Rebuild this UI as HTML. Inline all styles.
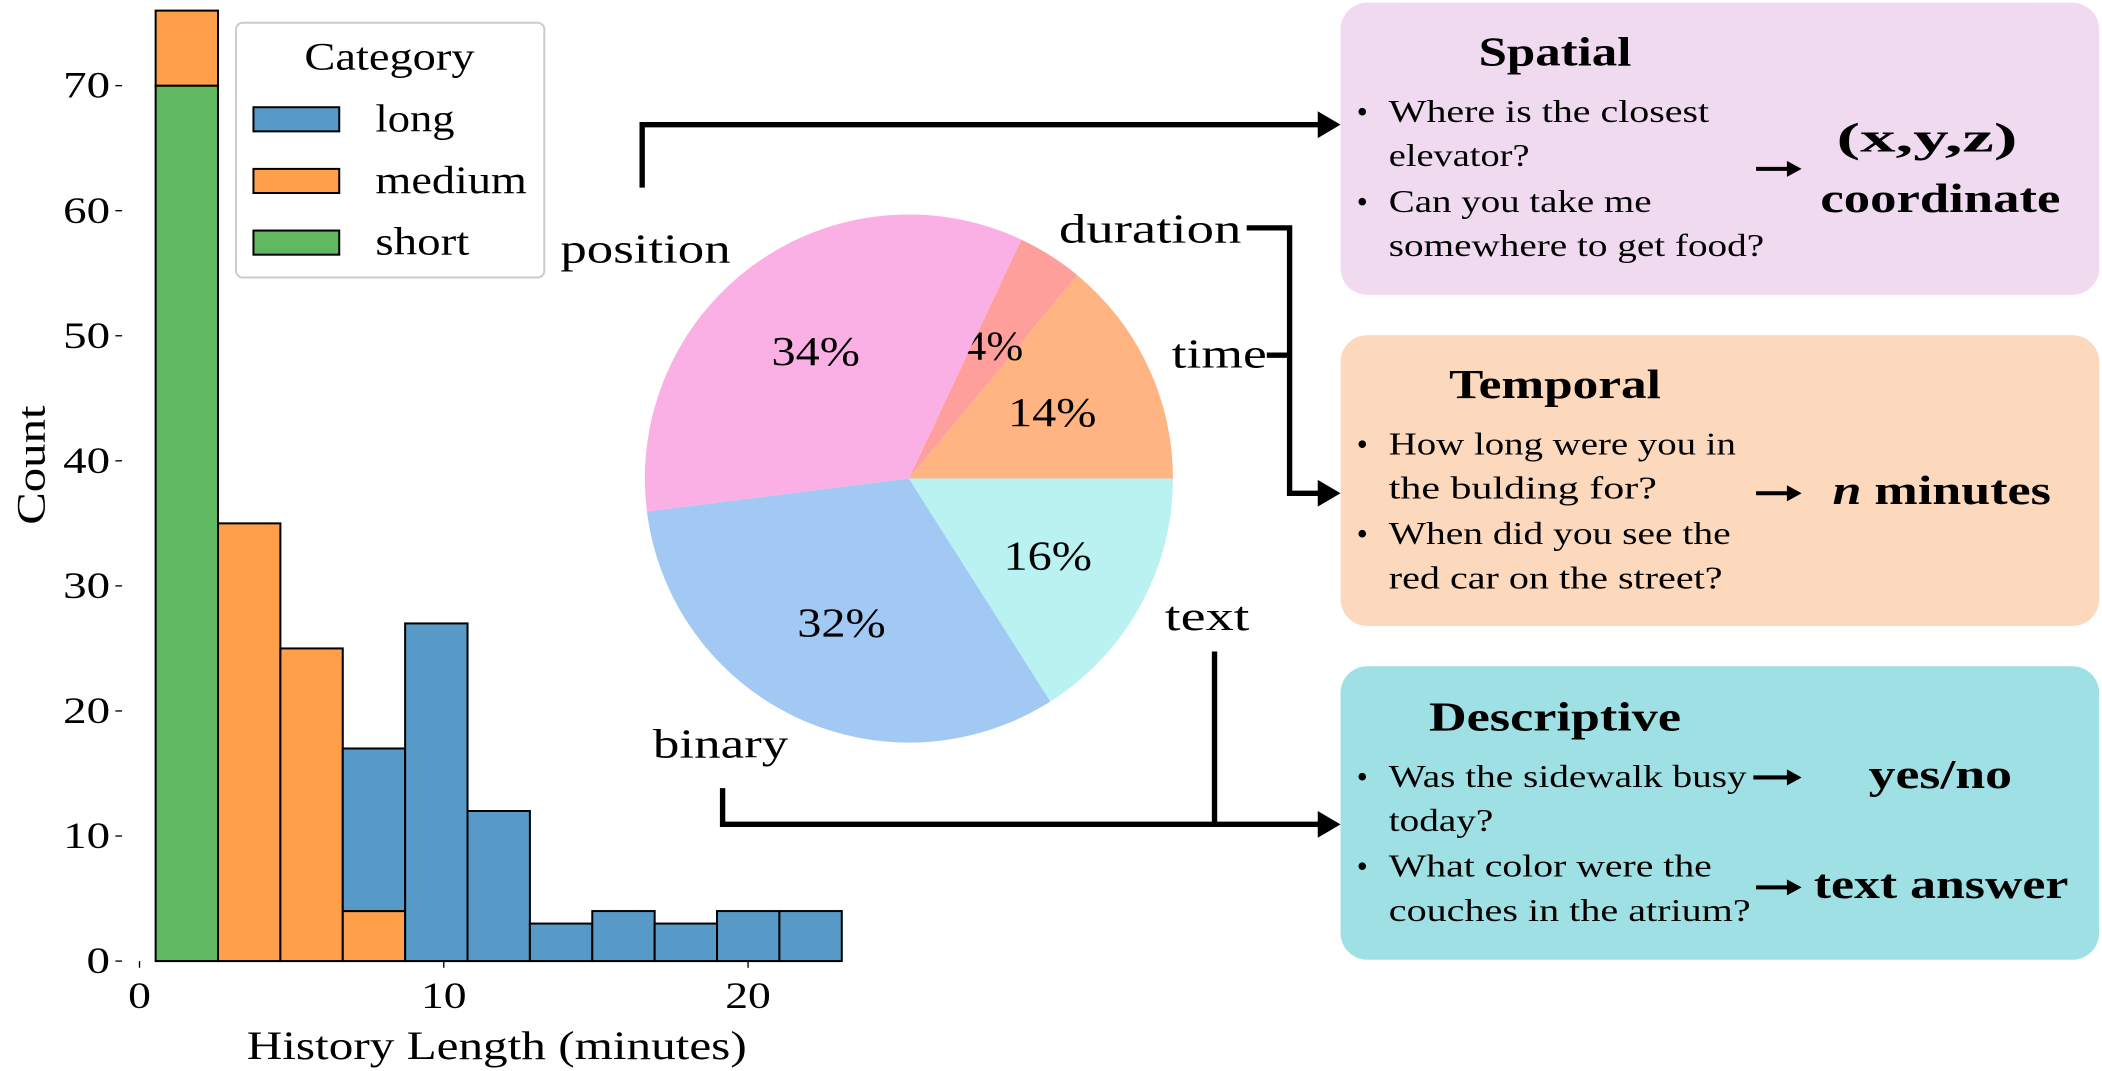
<!DOCTYPE html>
<html><head><meta charset="utf-8"><style>
html,body{margin:0;padding:0;background:#fff;width:2102px;height:1071px;overflow:hidden}
svg{display:block}
text{font-family:"Liberation Serif",serif;fill:#000}
</style></head><body>
<svg id="fig" width="2102" height="1071" viewBox="0 0 1568 799">
<g id="hist"></g>
<g id="pie"></g>
<g fill="none" stroke="#000" stroke-width="4">
<polyline points="479,140 479,93 985,93"/>
<polygon points="983,83 1000,93 983,103" fill="#000" stroke="none"/>
<polyline points="930,170 962,170 962,368 985,368"/>
<line x1="945" y1="265" x2="962" y2="265"/>
<polygon points="983,358 1000,368 983,378" fill="#000" stroke="none"/>
<polyline points="539,588 539,615 985,615"/>
<line x1="906" y1="486" x2="906" y2="615"/>
<polygon points="983,605 1000,615 983,625" fill="#000" stroke="none"/>
</g>
<g font-size="31" lengthAdjust="spacingAndGlyphs">
<text x="418" y="196" textLength="127" lengthAdjust="spacingAndGlyphs">position</text>
<text x="790" y="181" textLength="136" lengthAdjust="spacingAndGlyphs">duration</text>
<text x="874" y="274" textLength="71" lengthAdjust="spacingAndGlyphs">time</text>
<text x="869" y="470" textLength="63" lengthAdjust="spacingAndGlyphs">text</text>
<text x="487" y="565" textLength="101" lengthAdjust="spacingAndGlyphs">binary</text>
</g>
<g>
<rect x="1000" y="2" width="566" height="218" rx="20" fill="#f0daf0"/>
<text x="1103" y="49" font-size="31" font-weight="bold" textLength="114" lengthAdjust="spacingAndGlyphs">Spatial</text>
<g font-size="24"><text x="1012" y="91">•</text><text x="1036" y="91" textLength="239" lengthAdjust="spacingAndGlyphs">Where is the closest</text><text x="1036" y="124" textLength="105" lengthAdjust="spacingAndGlyphs">elevator?</text>
<text x="1012" y="158">•</text><text x="1036" y="158" textLength="196" lengthAdjust="spacingAndGlyphs">Can you take me</text><text x="1036" y="191" textLength="280" lengthAdjust="spacingAndGlyphs">somewhere to get food?</text></g>
<path d="M1310,126 H1335" stroke="#000" stroke-width="3"/><polygon points="1333,120 1344,126 1333,132"/>
<text x="1370" y="113" font-size="31" font-weight="bold" textLength="135" lengthAdjust="spacingAndGlyphs">(x,y,z)</text>
<text x="1358" y="158" font-size="31" font-weight="bold" textLength="179" lengthAdjust="spacingAndGlyphs">coordinate</text>
</g>
<g>
<rect x="1000" y="250" width="566" height="217" rx="20" fill="#fcd9bd"/>
<text x="1081" y="297" font-size="31" font-weight="bold" textLength="158" lengthAdjust="spacingAndGlyphs">Temporal</text>
<g font-size="24"><text x="1012" y="339">•</text><text x="1036" y="339" textLength="259" lengthAdjust="spacingAndGlyphs">How long were you in</text><text x="1036" y="372" textLength="200" lengthAdjust="spacingAndGlyphs">the bulding for?</text>
<text x="1012" y="406">•</text><text x="1036" y="406" textLength="255" lengthAdjust="spacingAndGlyphs">When did you see the</text><text x="1036" y="439" textLength="249" lengthAdjust="spacingAndGlyphs">red car on the street?</text></g>
<path d="M1310,368 H1335" stroke="#000" stroke-width="3"/><polygon points="1333,362 1344,368 1333,374"/>
<text x="1367" y="376" font-size="31" font-weight="bold" textLength="163" lengthAdjust="spacingAndGlyphs"><tspan font-style="italic">n</tspan> minutes</text>
</g>
<g>
<rect x="1000" y="497" width="566" height="219" rx="20" fill="#9fe0e4"/>
<text x="1066" y="545" font-size="31" font-weight="bold" textLength="188" lengthAdjust="spacingAndGlyphs">Descriptive</text>
<g font-size="24"><text x="1012" y="587">•</text><text x="1036" y="587" textLength="267" lengthAdjust="spacingAndGlyphs">Was the sidewalk busy</text><text x="1036" y="620" textLength="78" lengthAdjust="spacingAndGlyphs">today?</text>
<text x="1012" y="654">•</text><text x="1036" y="654" textLength="241" lengthAdjust="spacingAndGlyphs">What color were the</text><text x="1036" y="687" textLength="270" lengthAdjust="spacingAndGlyphs">couches in the atrium?</text></g>
<path d="M1308,580 H1335" stroke="#000" stroke-width="3"/><polygon points="1333,574 1344,580 1333,586"/>
<text x="1394" y="588" font-size="31" font-weight="bold" textLength="107" lengthAdjust="spacingAndGlyphs">yes/no</text>
<path d="M1310,662 H1335" stroke="#000" stroke-width="3"/><polygon points="1333,656 1344,662 1333,668"/>
<text x="1353" y="670" font-size="31" font-weight="bold" textLength="190" lengthAdjust="spacingAndGlyphs">text answer</text>
</g>
</svg>
<script>
const binStarts=[0.53,2.58,4.63,6.68,8.73,10.78,12.83,14.88,16.93,18.98,21.03];
const shortVals=[70,0,0,0,0,0,0,0,0,0,0];
const mediumVals=[6,35,25,4,0,0,0,0,0,0,0];
const longVals=[0,0,0,13,27,12,3,4,3,4,4];
const binWidth=2.05;
const xTicks=[0,10,20];
const yTicks=[0,10,20,30,40,50,60,70];
const pieLabels=['medium-red','red','pink','blue','cyan'];
const pieVals=[14,4,34,32,16];
const pieColors=['#ffb482','#ff9f9b','#fab0e4','#a1c9f4','#b9f2f0'];
const NS='http://www.w3.org/2000/svg';
function mk(t,a,p){const e=document.createElementNS(NS,t);for(const k in a)e.setAttribute(k,a[k]);p.appendChild(e);return e;}
const X=v=>104+v*22.7, Y=v=>717-v*9.33;
const h=document.getElementById('hist');
const series=[[shortVals,'#60b860','short'],[mediumVals,'#ff9f4a','medium'],[longVals,'#579ac7','long']];
binStarts.forEach((s,i)=>{let base=0;series.forEach(([vals,col,nm])=>{const v=vals[i];if(v>0){
const r=mk('rect',{x:X(s),y:Y(base+v),width:X(s+binWidth)-X(s),height:Y(base)-Y(base+v),fill:col,stroke:'#000','stroke-width':1.5},h);


base+=v;}});});
xTicks.forEach(t=>{mk('line',{x1:X(t),x2:X(t),y1:717,y2:722,stroke:'#000'},h);const tx=mk('text',{x:X(t),y:752,'font-size':28,'text-anchor':'middle',textLength:String(t).length*17,lengthAdjust:'spacingAndGlyphs'},h);tx.textContent=t;

});
yTicks.forEach(t=>{mk('line',{x1:86,x2:91,y1:Y(t),y2:Y(t),stroke:'#000'},h);const tx=mk('text',{x:82,y:Y(t)+9,'font-size':28,'text-anchor':'end',textLength:String(t).length*17.5,lengthAdjust:'spacingAndGlyphs'},h);tx.textContent=t;

});
let t=mk('text',{x:184,y:790,'font-size':30,textLength:373,lengthAdjust:'spacingAndGlyphs'},h);t.textContent='History Length (minutes)';


t=mk('text',{x:0,y:0,'font-size':30,'text-anchor':'middle',textLength:89,lengthAdjust:'spacingAndGlyphs',transform:'translate(33,347) rotate(-90)'},h);t.textContent='Count';


const lg=mk('g',{},h);


mk('rect',{x:176,y:17,width:230,height:190,rx:5,fill:'#fff',stroke:'#ccc','stroke-width':1.5},lg);
t=mk('text',{x:227,y:52,'font-size':29,textLength:127,lengthAdjust:'spacingAndGlyphs'},lg);t.textContent='Category';
[['long','#579ac7',59],['medium','#ff9f4a',113],['short','#60b860',70]].forEach(([n,c,w],i)=>{const y=80+i*46;
mk('rect',{x:189,y:y,width:64,height:18,fill:c,stroke:'#000','stroke-width':1.5},lg);
const e=mk('text',{x:280,y:y+18,'font-size':29,textLength:w,lengthAdjust:'spacingAndGlyphs'},lg);e.textContent=n;

});
const p=document.getElementById('pie');const cx=678,cy=357,R=197;
const tot=pieVals.reduce((a,b)=>a+b,0);let ang=0;
pieVals.forEach((v,i)=>{const a0=ang,a1=ang+v/tot*2*Math.PI;ang=a1;
const x0=cx+R*Math.cos(a0),y0=cy-R*Math.sin(a0),x1=cx+R*Math.cos(a1),y1=cy-R*Math.sin(a1);
const s=mk('path',{d:`M${cx},${cy} L${x0},${y0} A${R},${R} 0 ${a1-a0>Math.PI?1:0} 0 ${x1},${y1} Z`,fill:pieColors[i]},p);


const am=(a0+a1)/2;const lbl=v+'%';const l=mk('text',{x:cx+0.6*R*Math.cos(am),y:cy-0.6*R*Math.sin(am)+11,'font-size':31,'text-anchor':'middle',textLength:lbl.length*22,lengthAdjust:'spacingAndGlyphs'},p);l.textContent=lbl;

});
</script>
</body></html>
